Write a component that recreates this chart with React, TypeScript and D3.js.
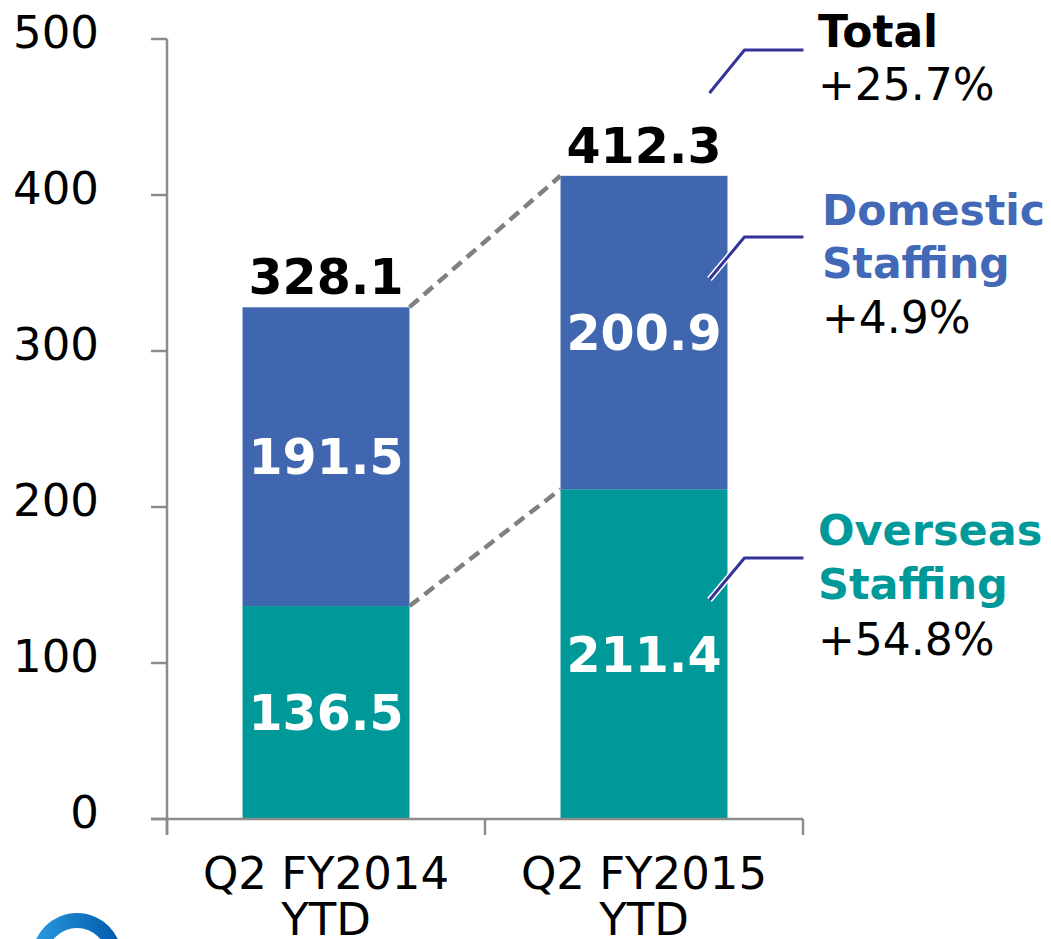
import React from "react";
import * as d3 from "d3";

const categories = ["Q2 FY2014 YTD", "Q2 FY2015 YTD"];
const categoryLines = [["Q2 FY2014", "YTD"], ["Q2 FY2015", "YTD"]];
const overseas = [136.5, 211.4];
const domestic = [191.5, 200.9];
const totals = [328.1, 412.3];
const yTicks = [0, 100, 200, 300, 400, 500];
const seriesKeys = ["overseas", "domestic"];
const seriesNames = [["Overseas", "Staffing"], ["Domestic", "Staffing"]];
const seriesGrowth = ["+54.8%", "+4.9%"];
const totalName = "Total";
const totalGrowth = "+25.7%";

const W = 1051;
const H = 939;
const FONT = "'DejaVu Sans', Verdana, sans-serif";
const COLORS: Record<string, string> = { overseas: "#009999", domestic: "#4166B0" };
const TEXT_COLORS: Record<string, string> = { overseas: "#009999", domestic: "#4169B8" };

export default function App() {
  const x = d3.scaleBand<string>().domain(categories).range([167, 803]).paddingInner(0.475).paddingOuter(0.2375);
  const y = d3.scaleLinear().domain([0, 500]).range([819, 39]);

  const rows = categories.map((c, i) => ({ cat: c, overseas: overseas[i], domestic: domestic[i] }));
  const stack = d3.stack<any>().keys(seriesKeys);
  const stacked = stack(rows);

  const bw = x.bandwidth();
  const x0 = x(categories[0])!;
  const x1 = x(categories[1])!;

  const calloutStartX = x1 + bw - 18;
  const legendX = 818;

  const callout = (yStart: number, yEnd: number, key: string) => {
    const pts: [number, number][] = [
      [calloutStartX, yStart],
      [calloutStartX + 35, yEnd],
      [calloutStartX + 94, yEnd],
    ];
    const line = d3.line()(pts) || "";
    return (
      <g key={key}>
        <path d={line} fill="none" stroke="#ffffff" strokeWidth={6} strokeLinejoin="miter" />
        <path d={line} fill="none" stroke="#333399" strokeWidth={3} strokeLinejoin="miter" />
      </g>
    );
  };

  return (
    <svg width={W} height={H} style={{ position: "absolute", left: 0, top: 0, background: "#fff" }} fontFamily={FONT}>
      <defs>
        <linearGradient id="logoGrad" x1="0" y1="0" x2="1" y2="0">
          <stop offset="0%" stopColor="#2a9be0" />
          <stop offset="100%" stopColor="#0058a8" />
        </linearGradient>
      </defs>

      {stacked.map((s) => (
        <g key={s.key}>
          {s.map((d, i) => (
            <rect
              key={i}
              x={x(categories[i])}
              y={y(d[1])}
              width={bw}
              height={y(d[0]) - y(d[1])}
              fill={COLORS[s.key]}
            />
          ))}
        </g>
      ))}

      {stacked.map((s) =>
        s.map((d, i) => (
          <text
            key={s.key + i}
            x={x(categories[i])! + bw / 2}
            y={y((d[0] + d[1]) / 2)}
            dy="0.36em"
            textAnchor="middle"
            fill="#ffffff"
            fontWeight="bold"
            fontSize={49}
          >
            {(d[1] - d[0]).toFixed(1)}
          </text>
        ))
      )}

      {totals.map((t, i) => (
        <text
          key={i}
          x={x(categories[i])! + bw / 2}
          y={y(t) - 13}
          textAnchor="middle"
          fill="#000"
          fontWeight="bold"
          fontSize={49}
        >
          {t.toFixed(1)}
        </text>
      ))}

      <line x1={x0 + bw} y1={y(totals[0])} x2={x1} y2={y(totals[1])} stroke="#808080" strokeWidth={4.5} strokeDasharray="12 7" />
      <line x1={x0 + bw} y1={y(overseas[0])} x2={x1} y2={y(overseas[1])} stroke="#808080" strokeWidth={4.5} strokeDasharray="12 7" />

      <line x1={167} y1={y(500)} x2={167} y2={835} stroke="#8c8c8c" strokeWidth={2.5} />
      {yTicks.map((t) => (
        <g key={t}>
          <line x1={151} x2={167} y1={y(t)} y2={y(t)} stroke="#8c8c8c" strokeWidth={2.5} />
          <text x={99} y={y(t) - 7} dy="0.36em" textAnchor="end" fontSize={45} fill="#000">
            {t}
          </text>
        </g>
      ))}

      <line x1={151} x2={803} y1={y(0)} y2={y(0)} stroke="#8c8c8c" strokeWidth={2.5} />
      {[167, 167 + x.step(), 167 + 2 * x.step()].map((px, i) => (
        <line key={i} x1={px} x2={px} y1={y(0)} y2={835} stroke="#8c8c8c" strokeWidth={2.5} />
      ))}
      {categoryLines.map((lines, i) => (
        <text key={i} x={x(categories[i])! + bw / 2} textAnchor="middle" fontSize={45} fill="#000">
          {lines.map((l, j) => (
            <tspan key={j} x={x(categories[i])! + bw / 2} y={889 + j * 46}>
              {l}
            </tspan>
          ))}
        </text>
      ))}

      {callout(93, 50, "total")}
      {callout(279, 237, "dom")}
      {callout(600, 558, "ovs")}

      <text x={legendX} y={47} fontSize={44} fontWeight="bold" fill="#000">{totalName}</text>
      <text x={legendX} y={100} fontSize={44} fill="#000">{totalGrowth}</text>

      <text x={legendX + 4} y={225} fontSize={42.5} fontWeight="bold" fill={TEXT_COLORS.domestic}>{seriesNames[1][0]}</text>
      <text x={legendX + 4} y={278} fontSize={42.5} fontWeight="bold" fill={TEXT_COLORS.domestic}>{seriesNames[1][1]}</text>
      <text x={legendX + 4} y={333} fontSize={44} fill="#000">{seriesGrowth[1]}</text>

      <text x={legendX} y={545} fontSize={43} fontWeight="bold" fill={TEXT_COLORS.overseas}>{seriesNames[0][0]}</text>
      <text x={legendX} y={599} fontSize={43} fontWeight="bold" fill={TEXT_COLORS.overseas}>{seriesNames[0][1]}</text>
      <text x={legendX} y={655} fontSize={44} fill="#000">{seriesGrowth[0]}</text>

      <path
        d={d3.arc()({ innerRadius: 30, outerRadius: 45, startAngle: -Math.PI / 2, endAngle: Math.PI / 2 }) || ""}
        transform="translate(77,958)"
        fill="url(#logoGrad)"
      />
    </svg>
  );
}
